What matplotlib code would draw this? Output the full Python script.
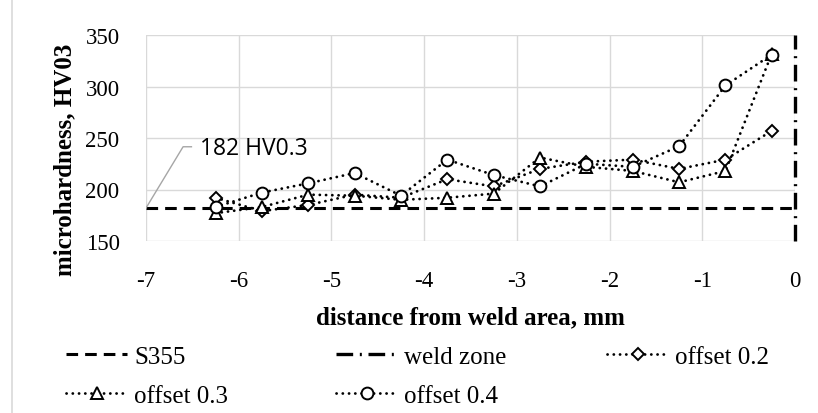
import numpy as np
import matplotlib
matplotlib.use("Agg")
import matplotlib.pyplot as plt
from matplotlib.lines import Line2D

# data
distance = [-6.25, -5.75, -5.25, -4.75, -4.25, -3.75, -3.25,
            -2.75, -2.25, -1.75, -1.25, -0.75, -0.25]
offset_02 = [192, 179, 185, 195, 192, 210, 203, 220, 227, 229, 220, 229, 257]
offset_03 = [177, 183, 195, 194, 190, 192, 196, 231, 222, 218, 207, 218, 332]
offset_04 = [183, 197, 206, 216, 194, 229, 214, 203, 225, 222, 242, 301, 331]
s355_level = 182
weld_x = 0
x_ticks = [-7, -6, -5, -4, -3, -2, -1, 0]
y_ticks = [150, 200, 250, 300, 350]
callout_text = "182 HV0.3"

SERIF = "Liberation Serif"
GRID = "#d9d9d9"
plt.rcParams["axes.unicode_minus"] = False

fig = plt.figure(figsize=(8.18, 4.14), dpi=100)
ax = fig.add_axes([146 / 818, 1 - 242 / 414, 649 / 818, 206 / 414])

ax.set_xlim(-7, 0)
ax.set_ylim(150, 350)
ax.set_xticks(x_ticks)
ax.set_yticks(y_ticks)
ax.grid(True, color=GRID, lw=1.0)
ax.set_axisbelow(True)
for s in ax.spines.values():
    s.set_visible(False)
ax.tick_params(length=0, labelsize=16.5)
ax.tick_params(axis="x", pad=21)
ax.tick_params(axis="y", pad=19)
for lab in ax.get_xticklabels() + ax.get_yticklabels():
    lab.set_fontfamily(SERIF)

# reference lines
s355, = ax.plot(ax.get_xlim(), [s355_level, s355_level], color="black", lw=2.2,
                dashes=(3.8, 2.3), label="S355", zorder=2)
weld, = ax.plot([weld_x, weld_x], ax.get_ylim(), color="black", lw=2.4,
                dashes=(5, 2, 0.6, 2), label="weld zone", clip_on=False, zorder=2)

# measured series
dot_style = dict(color="black", lw=2.0, linestyle=(0, (0.05, 2.2)),
                 dash_capstyle="round", mfc="white", mec="black", mew=1.4, zorder=3)
l02, = ax.plot(distance, offset_02, marker="D", ms=6.2, label="offset 0.2", **dot_style)
l03, = ax.plot(distance, offset_03, marker="^", ms=8.8, label="offset 0.3", **dot_style)
l04, = ax.plot(distance, offset_04, marker="o", ms=8.5, label="offset 0.4", **dot_style)

# callout for the S355 level
txt_x, txt_y = -6.42, 240.5
ax.plot([-7, txt_x - 0.18, txt_x - 0.09], [s355_level, txt_y + 1, txt_y + 1],
        color="#a6a6a6", lw=1.0, zorder=2)
ax.text(txt_x, txt_y, callout_text, fontfamily="Open Sans", fontsize=16.5,
        va="center", ha="left")

# axis titles
fig.text(65 / 818, 1 - 160 / 414, "microhardness, HV03", rotation=90,
         fontfamily=SERIF, fontweight="bold", fontsize=18, ha="center", va="center")
fig.text(470 / 818, 1 - 318 / 414, "distance from weld area, mm",
         fontfamily=SERIF, fontweight="bold", fontsize=18, ha="center", va="center")

# legend laid out in three evenly spaced columns like the original
leg_kw = dict(loc="upper left", frameon=False, borderpad=0, borderaxespad=0,
              handlelength=2.45, handletextpad=0.28, labelspacing=0.68,
              prop={"family": SERIF, "size": 18})
top = 1 - 346 / 414
fig.legend(handles=[s355, l03], bbox_to_anchor=(66 / 818, top), **leg_kw)
fig.legend(handles=[weld, l04], bbox_to_anchor=(336 / 818, top), **leg_kw)
fig.legend(handles=[l02], bbox_to_anchor=(607 / 818, top), **leg_kw)

# thin frame line on the left edge
fig.add_artist(Line2D([12 / 818, 12 / 818], [0, 1], color=GRID, lw=1.2))

fig.savefig("out.png", dpi=100)
